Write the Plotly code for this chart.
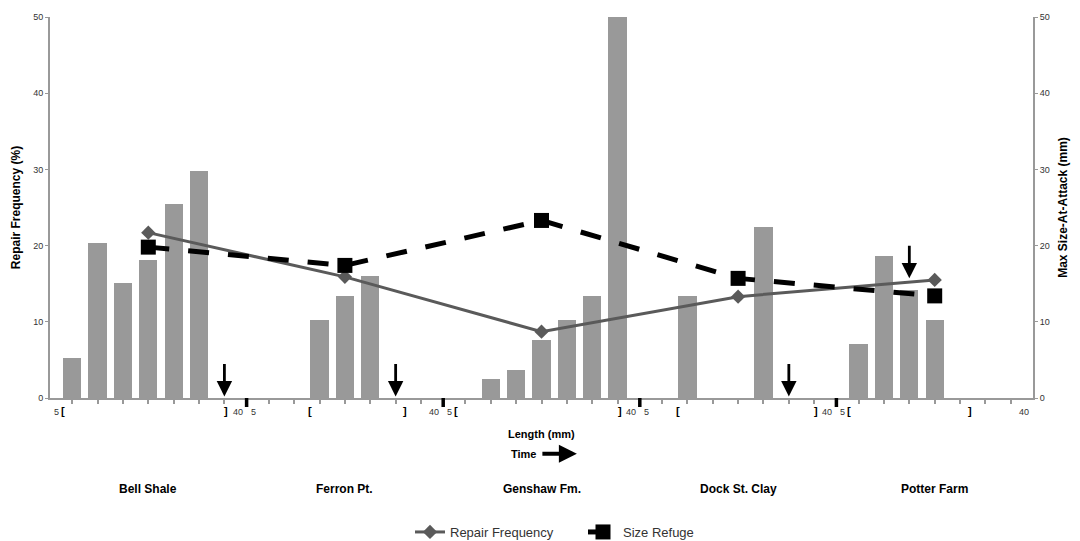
import plotly.graph_objects as go

# ---------------- data ----------------
groups = ["Bell Shale", "Ferron Pt.", "Genshaw Fm.", "Dock St. Clay", "Potter Farm"]
n_slots = 7                      # size bins per formation (5-40 mm)
bin_start_label = "5"
bin_end_label = "40"

bar_slots = [[0, 1, 2, 3, 4, 5], [2, 3, 4], [1, 2, 3, 4, 5, 6], [1, 4], [0, 1, 2, 3]]
bar_values = [[5.2, 20.4, 15.1, 18.1, 25.4, 29.8],
              [10.2, 13.4, 16.0],
              [2.5, 3.7, 7.6, 10.2, 13.4, 50.0],
              [13.4, 22.4],
              [7.1, 18.7, 14.2, 10.2]]

line_slot = 3
repair_freq = [21.7, 15.9, 8.7, 13.3, 15.5]
size_refuge = [19.8, 17.4, 23.3, 15.7, 13.4]

arrow_group = [0, 1, 3, 4]
arrow_slot = [6, 5, 5, 2]
arrow_tip = [0.2, 0.2, 0.2, 15.7]

bracket_start = [0, 2, 0, 1, 0]
bracket_end = [6, 5, 6, 6, 4]

y_ticks = [0, 10, 20, 30, 40, 50]

# ---------------- geometry helpers ----------------
GROUP_W = 7.75
MARGIN = 0.875


def slot_x(g, k):
    return g * GROUP_W + MARGIN + k


FONT = "Liberation Sans, Arial, Helvetica, sans-serif"
AXIS_GRAY = "#999999"
BAR_GRAY = "#999999"

fig = go.Figure()

# bars
for g, (slots, vals) in enumerate(zip(bar_slots, bar_values)):
    fig.add_trace(go.Bar(
        x=[slot_x(g, k) for k in slots], y=vals, width=0.72,
        marker=dict(color=BAR_GRAY, line=dict(width=0)),
        showlegend=False, hoverinfo="skip"))

line_x = [slot_x(g, line_slot) for g in range(len(groups))]

fig.add_trace(go.Scatter(
    x=line_x, y=repair_freq, mode="lines+markers", name="Repair Frequency",
    line=dict(color="#5a5a5a", width=3),
    marker=dict(symbol="diamond", size=11, color="#5a5a5a")))

fig.add_trace(go.Scatter(
    x=line_x, y=size_refuge, mode="lines+markers", name="Size Refuge", yaxis="y2",
    line=dict(color="#000000", width=5, dash="21px,19px"),
    marker=dict(symbol="square", size=15, color="#000000")))

annotations = []
shapes = []

# down arrows
for g, k, tip in zip(arrow_group, arrow_slot, arrow_tip):
    annotations.append(dict(
        x=slot_x(g, k), y=tip, xref="x", yref="y", text="", showarrow=True,
        ax=0, ay=-34, arrowhead=2, arrowsize=1.1, arrowwidth=2.8,
        arrowcolor="#000000", standoff=0))

# bin labels, brackets, group boundaries, group names
for g, name in enumerate(groups):
    left = g * GROUP_W
    right = (g + 1) * GROUP_W
    annotations.append(dict(x=left, y=0, xref="x", yref="paper", text=bin_start_label,
                            showarrow=False, xanchor="left", yanchor="middle",
                            xshift=2, yshift=-14, font=dict(size=9, color="#333333", family=FONT)))
    annotations.append(dict(x=right, y=0, xref="x", yref="paper", text=bin_end_label,
                            showarrow=False, xanchor="right", yanchor="middle",
                            xshift=-2, yshift=-14, font=dict(size=9, color="#333333", family=FONT)))
    annotations.append(dict(x=slot_x(g, bracket_start[g]) - 0.38, y=0, xref="x", yref="paper",
                            text="<b>[</b>", showarrow=False, xanchor="center", yanchor="middle",
                            yshift=-13, font=dict(size=11, color="#000000", family=FONT)))
    annotations.append(dict(x=slot_x(g, min(bracket_end[g] + 0.38, n_slots - 1 + 0.08)), y=0,
                            xref="x", yref="paper", text="<b>]</b>", showarrow=False,
                            xanchor="center", yanchor="middle", yshift=-13,
                            font=dict(size=11, color="#000000", family=FONT)))
    annotations.append(dict(x=slot_x(g, line_slot), y=0, xref="x", yref="paper",
                            text="<b>%s</b>" % name, showarrow=False, xanchor="center",
                            yanchor="middle", yshift=-91,
                            font=dict(size=12, color="#000000", family=FONT)))
    if g > 0:
        shapes.append(dict(type="line", xref="x", yref="paper", x0=left, x1=left,
                           ysizemode="pixel", yanchor=0, y0=0, y1=-9,
                           line=dict(color="#000000", width=3.5), layer="above"))

# axis title and Time arrow
annotations.append(dict(x=0.5, y=0, xref="paper", yref="paper", text="<b>Length (mm)</b>",
                        showarrow=False, xanchor="center", yanchor="middle", yshift=-36,
                        font=dict(size=11, color="#000000", family=FONT)))
annotations.append(dict(x=0.496, y=0, xref="paper", yref="paper", text="<b>Time</b>",
                        showarrow=False, xanchor="right", yanchor="middle", yshift=-56,
                        font=dict(size=11, color="#000000", family=FONT)))
annotations.append(dict(x=0.536, y=-56 / 382, xref="paper", yref="paper", text="",
                        showarrow=True, ax=-36, ay=0, arrowhead=2, arrowsize=0.9,
                        arrowwidth=4, arrowcolor="#000000", standoff=0))

axis_common = dict(range=[0, 50], tickvals=y_ticks, showgrid=False, zeroline=False,
                   showline=True, linecolor=AXIS_GRAY, linewidth=2,
                   ticks="outside", ticklen=3, tickcolor=AXIS_GRAY, tickwidth=1,
                   tickfont=dict(size=9, color="#333333", family=FONT))

fig.update_layout(
    width=1080, height=541,
    margin=dict(l=50, r=38, t=16, b=143),
    paper_bgcolor="white", plot_bgcolor="white",
    barmode="overlay", bargap=0,
    font=dict(family=FONT),
    xaxis=dict(range=[0, GROUP_W * len(groups)],
               tickvals=[slot_x(g, k) for g in range(len(groups)) for k in range(n_slots)],
               showticklabels=False, ticks="outside", ticklen=4, tickwidth=1.5,
               tickcolor=AXIS_GRAY, showline=True, linecolor=AXIS_GRAY, linewidth=2,
               showgrid=False, zeroline=False),
    yaxis=dict(title=dict(text="<b>Repair Frequency (%)</b>", standoff=10,
                          font=dict(size=12, color="#000000", family=FONT)),
               **axis_common),
    yaxis2=dict(title=dict(text="<b>Max Size-At-Attack (mm)</b>", standoff=10,
                           font=dict(size=12, color="#000000", family=FONT)),
                overlaying="y", side="right", **axis_common),
    legend=dict(orientation="h", xref="container", x=410 / 1080, xanchor="left",
                yref="container", y=1 - 532 / 541, yanchor="middle",
                entrywidth=128, entrywidthmode="pixels", tracegroupgap=0,
                font=dict(size=13, color="#333333", family=FONT), bgcolor="rgba(0,0,0,0)"),
    annotations=annotations, shapes=shapes,
)

fig.write_html("out.html")
